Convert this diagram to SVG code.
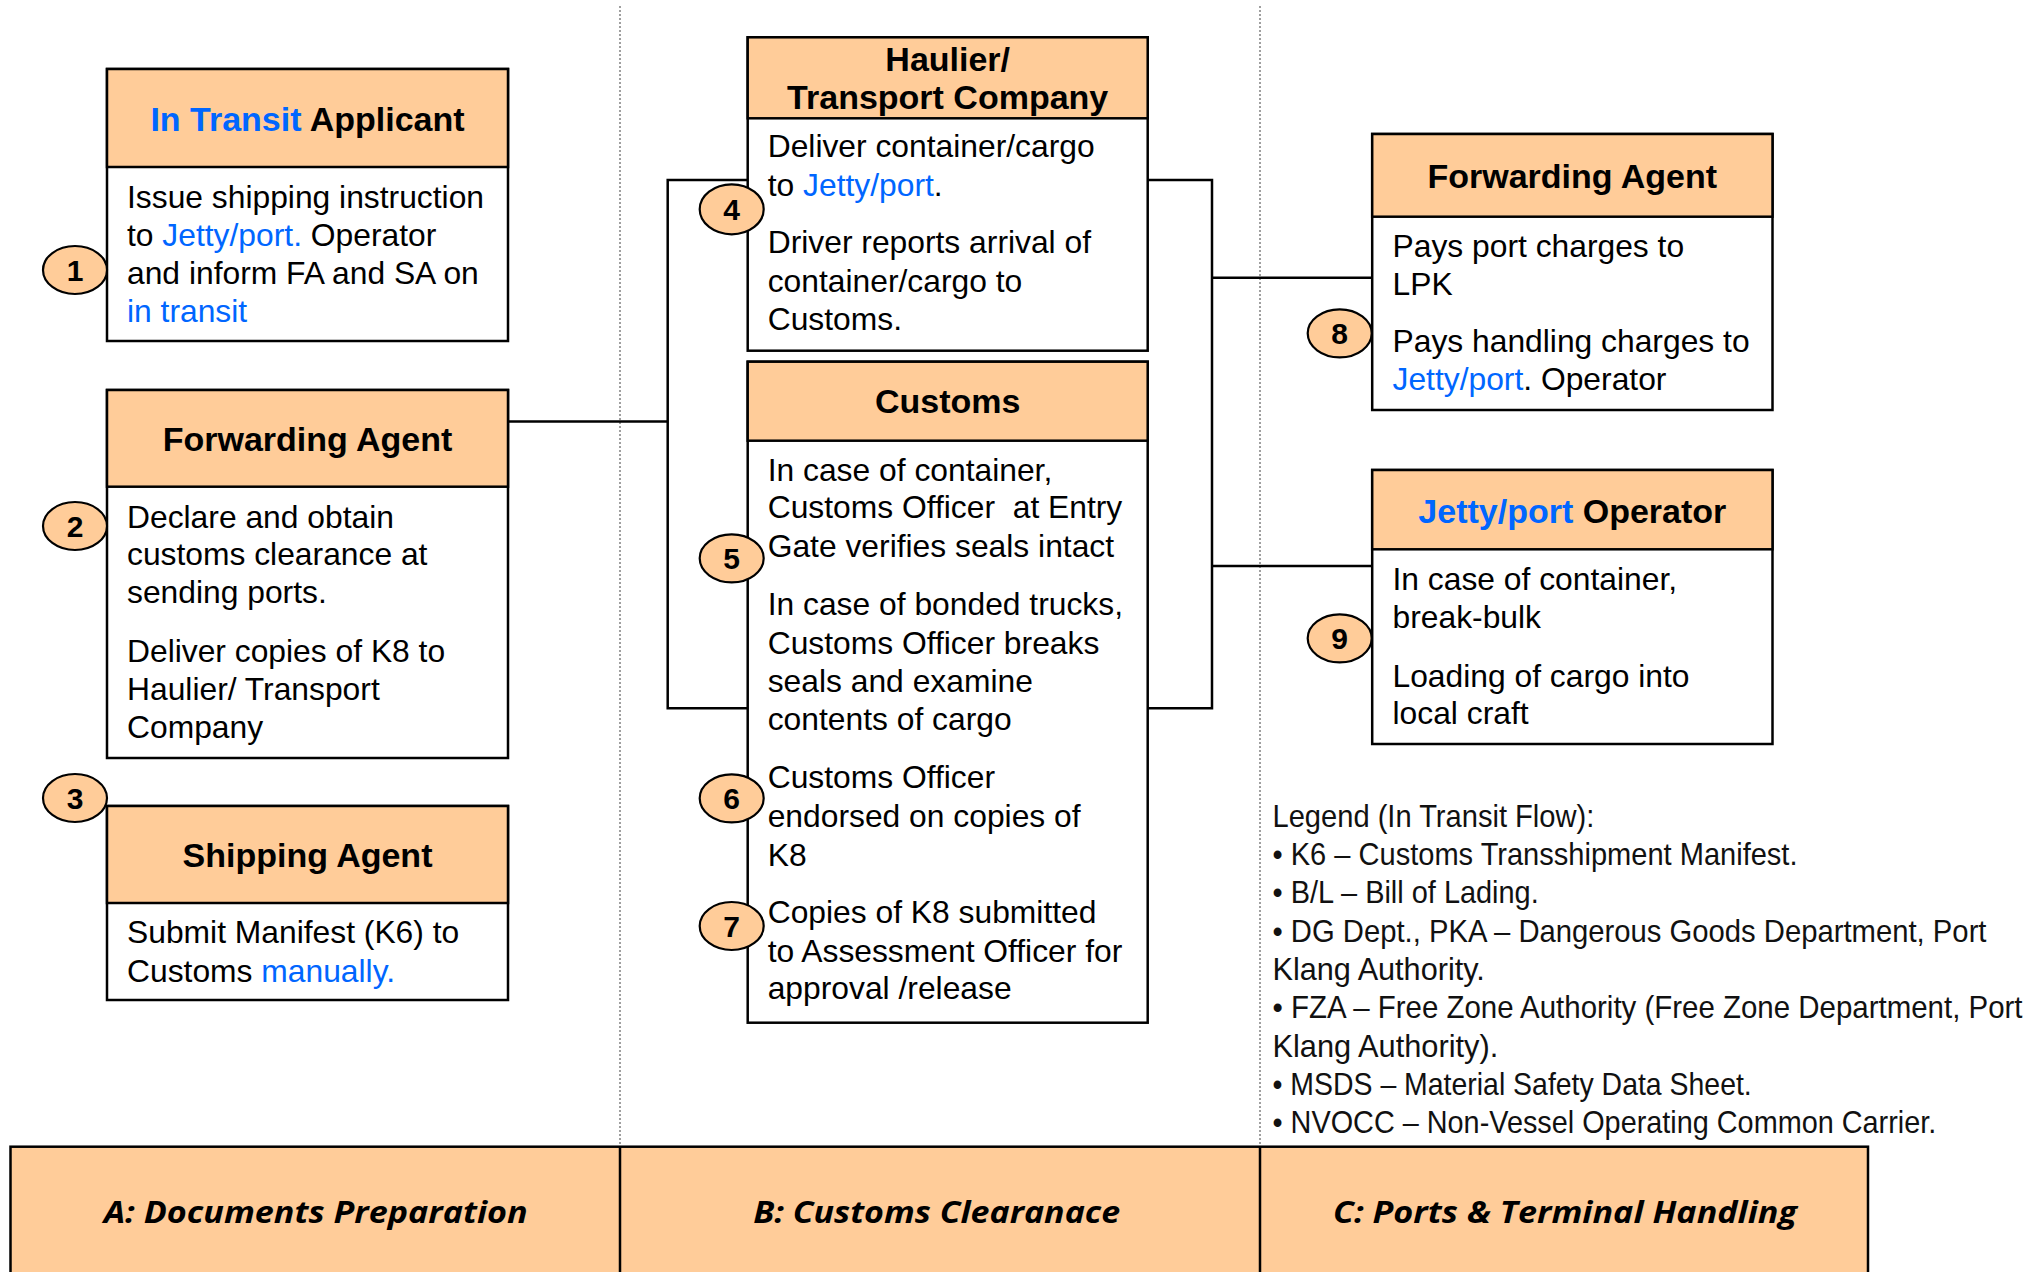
<svg xmlns="http://www.w3.org/2000/svg" width="2033" height="1272" viewBox="0 0 2033 1272">
<style>
.box{fill:#fff;stroke:#000;stroke-width:2.5}
.hdr{fill:#FFCC99;stroke:#000;stroke-width:2.5}
.ht{font-family:"Liberation Sans",Arial,sans-serif;font-weight:bold;font-size:34px;fill:#000;text-anchor:middle}
.bt{font-family:"Liberation Sans",Arial,sans-serif;font-size:31.8px;fill:#000}
.bl{fill:#0066FF}
.num{fill:#FFCC99;stroke:#000;stroke-width:2.2}
.nt{font-family:"Liberation Sans",Arial,sans-serif;font-weight:bold;font-size:30px;fill:#000;text-anchor:middle}
.con{fill:none;stroke:#000;stroke-width:2.5}
.dot{stroke:#888;stroke-width:1.6;stroke-dasharray:2 2}
.band{fill:#FFCC99;stroke:#000;stroke-width:2.5}
.bandt{font-family:"Open Sans","Noto Sans",sans-serif;font-style:italic;font-weight:700;font-size:30px;fill:#000;text-anchor:middle}
.lg{font-family:"Liberation Sans",Arial,sans-serif;font-size:32px;fill:#111}
</style>

<g id="dividers">
<line class="dot" x1="620" y1="6" x2="620" y2="1146"/>
<line class="dot" x1="1260" y1="6" x2="1260" y2="1146"/>
</g>

<g id="connectors">
<polyline class="con" points="508,421.5 667.7,421.5"/>
<polyline class="con" points="747.7,180 667.7,180 667.7,708.3 747.7,708.3"/>
<polyline class="con" points="1147.7,180 1212,180 1212,708.3 1147.7,708.3"/>
<polyline class="con" points="1212,277.7 1372.2,277.7"/>
<polyline class="con" points="1212,566 1372.2,566"/>
</g>

<g id="node-transit-applicant">
<rect class="box" x="107" y="69" width="401" height="272"/>
<rect class="hdr" x="107" y="69" width="401" height="98"/>
<text class="ht" x="307.5" y="131"><tspan class="bl">In Transit</tspan> Applicant</text>
<text class="bt" x="127" y="207.7">Issue shipping instruction</text>
<text class="bt" x="127" y="245.5">to <tspan class="bl">Jetty/port.</tspan> Operator</text>
<text class="bt" x="127" y="283.5">and inform FA and SA on</text>
<text class="bt" x="127" y="321.5"><tspan class="bl">in transit</tspan></text>
</g>

<g id="node-forwarding-agent-a">
<rect class="box" x="107" y="390" width="401" height="368"/>
<rect class="hdr" x="107" y="390" width="401" height="96.7"/>
<text class="ht" x="307.5" y="451">Forwarding Agent</text>
<text class="bt" x="127" y="527.7">Declare and obtain</text>
<text class="bt" x="127" y="565">customs clearance at</text>
<text class="bt" x="127" y="602.5">sending ports.</text>
<text class="bt" x="127" y="661.7">Deliver copies of K8 to</text>
<text class="bt" x="127" y="700">Haulier/ Transport</text>
<text class="bt" x="127" y="737.7">Company</text>
</g>

<g id="node-shipping-agent">
<rect class="box" x="107" y="806" width="401" height="194"/>
<rect class="hdr" x="107" y="806" width="401" height="97"/>
<text class="ht" x="307.5" y="866.7">Shipping Agent</text>
<text class="bt" x="127" y="943.3">Submit Manifest (K6) to</text>
<text class="bt" x="127" y="981.7">Customs <tspan class="bl">manually.</tspan></text>
</g>

<g id="node-haulier">
<rect class="box" x="747.7" y="37.3" width="400" height="313.4"/>
<rect class="hdr" x="747.7" y="37.3" width="400" height="81"/>
<text class="ht" x="947.7" y="70.7">Haulier/</text>
<text class="ht" x="947.7" y="109.3">Transport Company</text>
<text class="bt" x="767.7" y="157.3">Deliver container/cargo</text>
<text class="bt" x="767.7" y="195.7">to <tspan class="bl">Jetty/port</tspan>.</text>
<text class="bt" x="767.7" y="253.3">Driver reports arrival of</text>
<text class="bt" x="767.7" y="291.7">container/cargo to</text>
<text class="bt" x="767.7" y="330">Customs.</text>
</g>

<g id="node-customs">
<rect class="box" x="747.7" y="361.7" width="400" height="661"/>
<rect class="hdr" x="747.7" y="361.7" width="400" height="79"/>
<text class="ht" x="947.7" y="413.3">Customs</text>
<text class="bt" x="767.7" y="481">In case of container,</text>
<text class="bt" x="767.7" y="518.3" xml:space="preserve">Customs Officer  at Entry</text>
<text class="bt" x="767.7" y="556.7">Gate verifies seals intact</text>
<text class="bt" x="767.7" y="615">In case of bonded trucks,</text>
<text class="bt" x="767.7" y="654">Customs Officer breaks</text>
<text class="bt" x="767.7" y="691.7">seals and examine</text>
<text class="bt" x="767.7" y="730">contents of cargo</text>
<text class="bt" x="767.7" y="788.3">Customs Officer</text>
<text class="bt" x="767.7" y="827.3">endorsed on copies of</text>
<text class="bt" x="767.7" y="865.7">K8</text>
<text class="bt" x="767.7" y="923.3">Copies of K8 submitted</text>
<text class="bt" x="767.7" y="961.7">to Assessment Officer for</text>
<text class="bt" x="767.7" y="999.3">approval /release</text>
</g>

<g id="node-forwarding-agent-c">
<rect class="box" x="1372.2" y="134" width="400.3" height="276"/>
<rect class="hdr" x="1372.2" y="134" width="400.3" height="82.7"/>
<text class="ht" x="1572.3" y="188.3">Forwarding Agent</text>
<text class="bt" x="1392.5" y="256.7">Pays port charges to</text>
<text class="bt" x="1392.5" y="295">LPK</text>
<text class="bt" x="1392.5" y="351.7">Pays handling charges to</text>
<text class="bt" x="1392.5" y="390"><tspan class="bl">Jetty/port</tspan>. Operator</text>
</g>

<g id="node-jetty-operator">
<rect class="box" x="1372.2" y="470" width="400.3" height="274"/>
<rect class="hdr" x="1372.2" y="470" width="400.3" height="79.3"/>
<text class="ht" x="1572.3" y="522.7"><tspan class="bl">Jetty/port</tspan> Operator</text>
<text class="bt" x="1392.5" y="590">In case of container,</text>
<text class="bt" x="1392.5" y="628.3">break-bulk</text>
<text class="bt" x="1392.5" y="686.7">Loading of cargo into</text>
<text class="bt" x="1392.5" y="724.3">local craft</text>
</g>

<g id="step-markers">
<g id="step-1"><ellipse class="num" cx="75" cy="270" rx="32" ry="24"/><text class="nt" x="75" y="280.5">1</text></g>
<g id="step-2"><ellipse class="num" cx="75" cy="526" rx="32" ry="24"/><text class="nt" x="75" y="536.5">2</text></g>
<g id="step-3"><ellipse class="num" cx="75" cy="798" rx="32" ry="24"/><text class="nt" x="75" y="808.5">3</text></g>
<g id="step-4"><ellipse class="num" cx="731.7" cy="209.3" rx="32" ry="25"/><text class="nt" x="731.7" y="219.8">4</text></g>
<g id="step-5"><ellipse class="num" cx="731.7" cy="558.3" rx="32" ry="24"/><text class="nt" x="731.7" y="568.8">5</text></g>
<g id="step-6"><ellipse class="num" cx="731.7" cy="798.3" rx="32" ry="24"/><text class="nt" x="731.7" y="808.8">6</text></g>
<g id="step-7"><ellipse class="num" cx="731.7" cy="926" rx="32" ry="24"/><text class="nt" x="731.7" y="936.5">7</text></g>
<g id="step-8"><ellipse class="num" cx="1339.7" cy="333.3" rx="32" ry="24"/><text class="nt" x="1339.7" y="343.8">8</text></g>
<g id="step-9"><ellipse class="num" cx="1339.7" cy="638.3" rx="32" ry="24"/><text class="nt" x="1339.7" y="648.8">9</text></g>
</g>

<g id="legend" transform="translate(1272.5,0) scale(0.75,1)">
<text class="lg" x="0" y="826.7" textLength="429" lengthAdjust="spacingAndGlyphs">Legend (In Transit Flow):</text>
<text class="lg" x="0" y="865" textLength="700" lengthAdjust="spacingAndGlyphs">• K6 – Customs Transshipment Manifest.</text>
<text class="lg" x="0" y="903.3" textLength="355" lengthAdjust="spacingAndGlyphs">• B/L – Bill of Lading.</text>
<text class="lg" x="0" y="941.7" textLength="952" lengthAdjust="spacingAndGlyphs">• DG Dept., PKA – Dangerous Goods Department, Port</text>
<text class="lg" x="0" y="980" textLength="283" lengthAdjust="spacingAndGlyphs">Klang Authority.</text>
<text class="lg" x="0" y="1018.3" textLength="1000" lengthAdjust="spacingAndGlyphs">• FZA – Free Zone Authority (Free Zone Department, Port</text>
<text class="lg" x="0" y="1056.7" textLength="301" lengthAdjust="spacingAndGlyphs">Klang Authority).</text>
<text class="lg" x="0" y="1095" textLength="639" lengthAdjust="spacingAndGlyphs">• MSDS – Material Safety Data Sheet.</text>
<text class="lg" x="0" y="1133.3" textLength="885" lengthAdjust="spacingAndGlyphs">• NVOCC – Non-Vessel Operating Common Carrier.</text>
</g>

<g id="phase-band">
<rect class="band" x="10.5" y="1146.7" width="1857.5" height="140"/>
<line class="con" x1="620" y1="1146.7" x2="620" y2="1272"/>
<line class="con" x1="1260" y1="1146.7" x2="1260" y2="1272"/>
<text class="bandt" x="315.7" y="1223.3" textLength="424" lengthAdjust="spacingAndGlyphs">A: Documents Preparation</text>
<text class="bandt" x="936.7" y="1223.3" textLength="367" lengthAdjust="spacingAndGlyphs">B: Customs Clearanace</text>
<text class="bandt" x="1565" y="1223.3" textLength="464" lengthAdjust="spacingAndGlyphs">C: Ports &amp; Terminal Handling</text>
</g>
</svg>
